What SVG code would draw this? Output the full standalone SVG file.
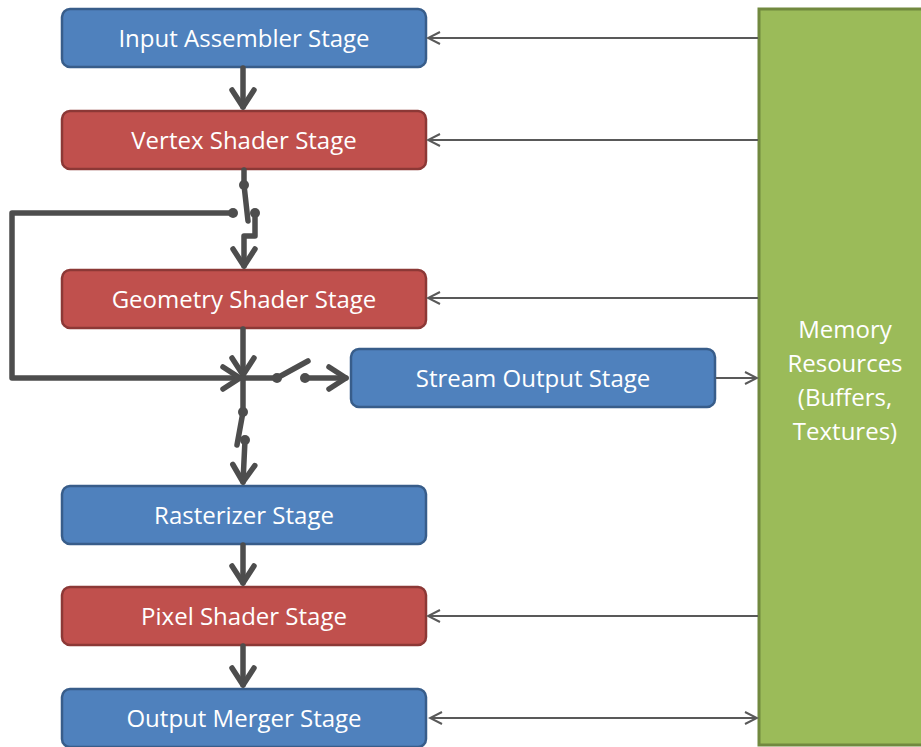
<svg xmlns="http://www.w3.org/2000/svg" width="921" height="747" viewBox="0 0 921 747">
  <style>
    .blue { fill: #4f81bd; stroke: #385d8a; stroke-width: 2.5; }
    .red { fill: #c0504d; stroke: #8c3836; stroke-width: 2.5; }
    .mem { fill: #9bbb59; stroke: #71893f; stroke-width: 3; }
    .label { fill: #ffffff; font-family: "Open Sans", "Liberation Sans", Arial, sans-serif; font-size: 24px; text-anchor: middle; }
    .thick { fill: none; stroke: #4d4d4d; stroke-width: 5.5; stroke-linecap: round; stroke-linejoin: round; }
    .thin { fill: none; stroke: #595959; stroke-width: 2; }
    .dot { fill: #4d4d4d; }
  </style>
  <defs>
    <marker id="bigHead" viewBox="-22 -16 26 32" markerWidth="26" markerHeight="32" markerUnits="userSpaceOnUse" orient="auto" refX="0" refY="0">
      <path d="M-17,-11 L0,0 L-17,11" fill="none" stroke="#4d4d4d" stroke-width="5.5" stroke-linecap="round" stroke-linejoin="round"/>
    </marker>
    <marker id="smallHead" viewBox="-14 -8 16 16" markerWidth="16" markerHeight="16" markerUnits="userSpaceOnUse" orient="auto-start-reverse" refX="0" refY="0">
      <path d="M-12,-6 L0,0 L-12,6" fill="none" stroke="#595959" stroke-width="2"/>
    </marker>
  </defs>

  <!-- memory block -->
  <g id="memory">
    <rect class="mem" x="759" y="9" width="170" height="736"/>
    <text class="label" x="845" y="338">Memory</text>
    <text class="label" x="845" y="372">Resources</text>
    <text class="label" x="845" y="406">(Buffers,</text>
    <text class="label" x="845" y="440">Textures)</text>
  </g>

  <g id="input-assembler">
    <rect class="blue" x="62" y="9" width="364" height="58" rx="8"/>
    <text class="label" x="244" y="47">Input Assembler Stage</text>
  </g>
  <g id="vertex-shader">
    <rect class="red" x="62" y="111" width="364" height="58" rx="8"/>
    <text class="label" x="244" y="149">Vertex Shader Stage</text>
  </g>
  <g id="geometry-shader">
    <rect class="red" x="62" y="270" width="364" height="58" rx="8"/>
    <text class="label" x="244" y="308">Geometry Shader Stage</text>
  </g>
  <g id="stream-output">
    <rect class="blue" x="351" y="349" width="364" height="58" rx="8"/>
    <text class="label" x="533" y="387">Stream Output Stage</text>
  </g>
  <g id="rasterizer">
    <rect class="blue" x="62" y="486" width="364" height="58" rx="8"/>
    <text class="label" x="244" y="524">Rasterizer Stage</text>
  </g>
  <g id="pixel-shader">
    <rect class="red" x="62" y="587" width="364" height="58" rx="8"/>
    <text class="label" x="244" y="625">Pixel Shader Stage</text>
  </g>
  <g id="output-merger">
    <rect class="blue" x="62" y="689" width="364" height="58" rx="8"/>
    <text class="label" x="244" y="727">Output Merger Stage</text>
  </g>

  <g id="connectors">
    <!-- memory links -->
    <line class="thin" x1="758" y1="38" x2="428" y2="38" marker-end="url(#smallHead)"/>
    <line class="thin" x1="758" y1="140" x2="428" y2="140" marker-end="url(#smallHead)"/>
    <line class="thin" x1="758" y1="298" x2="428" y2="298" marker-end="url(#smallHead)"/>
    <line class="thin" x1="716" y1="378" x2="757" y2="378" marker-end="url(#smallHead)"/>
    <line class="thin" x1="758" y1="616" x2="428" y2="616" marker-end="url(#smallHead)"/>
    <line class="thin" x1="430" y1="718" x2="757" y2="718" marker-start="url(#smallHead)" marker-end="url(#smallHead)"/>

    <!-- main pipeline -->
    <line class="thick" x1="243" y1="68" x2="243" y2="107" marker-end="url(#bigHead)"/>
    <line class="thick" x1="243" y1="545" x2="243" y2="583" marker-end="url(#bigHead)"/>
    <line class="thick" x1="243" y1="646" x2="243" y2="685" marker-end="url(#bigHead)"/>

    <!-- vertex shader output switch -->
    <line class="thick" x1="244" y1="170" x2="244" y2="185"/>
    <line class="thick" x1="244" y1="185" x2="248" y2="221"/>
    <circle class="dot" cx="244" cy="185" r="5"/>
    <circle class="dot" cx="233" cy="213" r="5"/>
    <circle class="dot" cx="255" cy="213" r="5"/>
    <polyline class="thick" points="255,213 255,236 244,236 244,266" marker-end="url(#bigHead)"/>
    <polyline class="thick" points="233,213 12,213 12,378 240,378" marker-end="url(#bigHead)"/>

    <!-- geometry shader output junction -->
    <line class="thick" x1="243" y1="329" x2="243" y2="375" marker-end="url(#bigHead)"/>
    <line class="thick" x1="243" y1="378" x2="277" y2="378"/>
    <line class="thick" x1="277" y1="378" x2="308" y2="361"/>
    <circle class="dot" cx="277" cy="378" r="5"/>
    <circle class="dot" cx="305" cy="378" r="5"/>
    <line class="thick" x1="305" y1="378" x2="346" y2="378" marker-end="url(#bigHead)"/>
    <line class="thick" x1="243" y1="378" x2="243" y2="412"/>
    <line class="thick" x1="243" y1="412" x2="237" y2="445"/>
    <circle class="dot" cx="243" cy="412" r="5"/>
    <circle class="dot" cx="245" cy="440" r="5"/>
    <line class="thick" x1="245" y1="440" x2="243" y2="482" marker-end="url(#bigHead)"/>
  </g>
</svg>
